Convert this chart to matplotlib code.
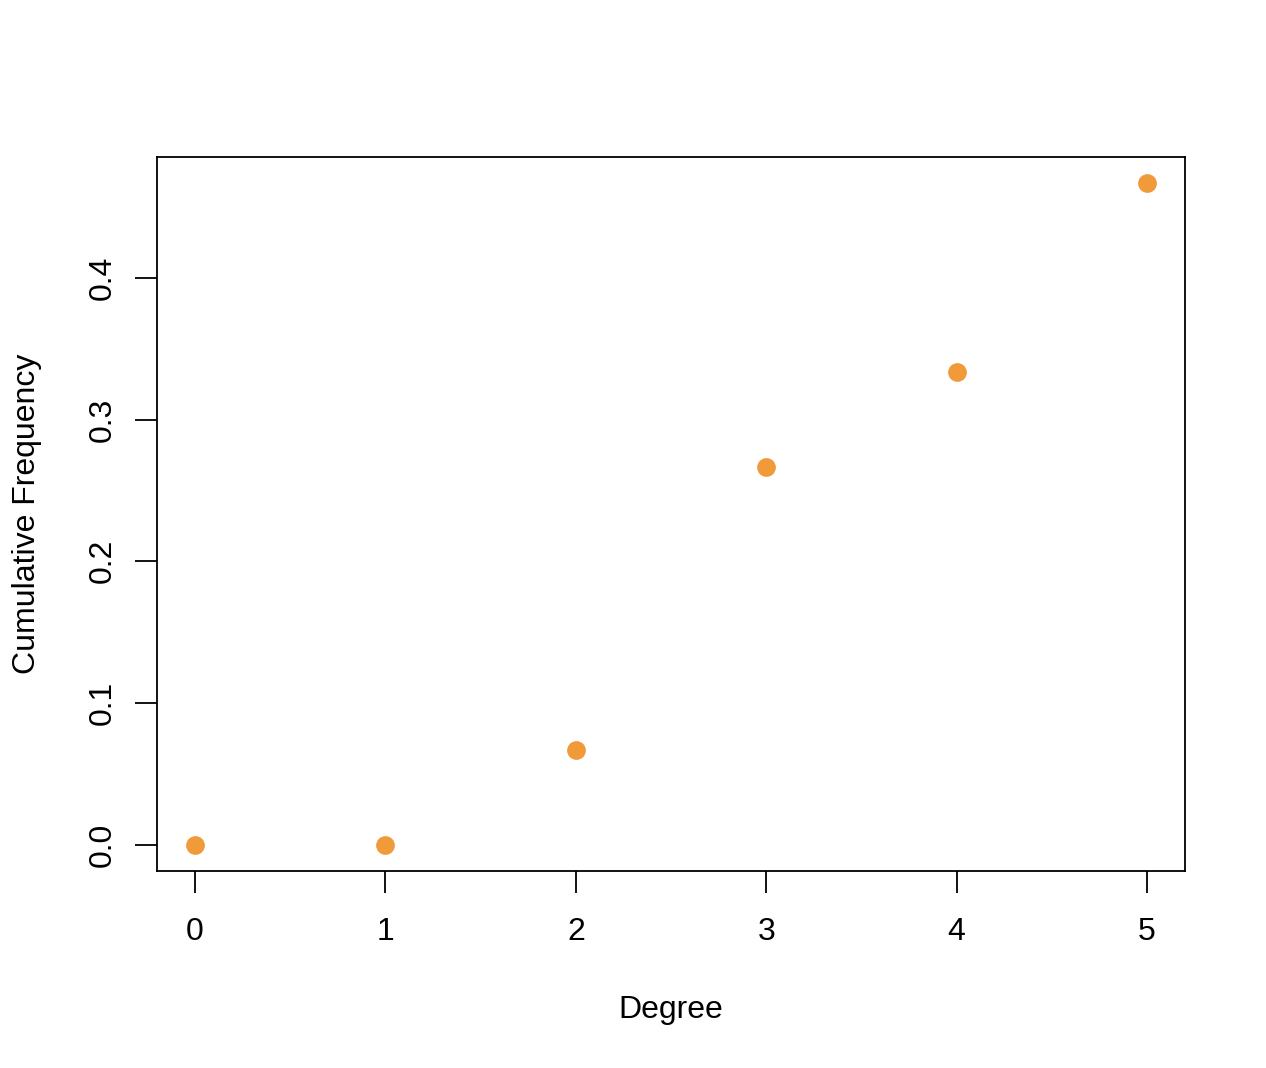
import matplotlib
matplotlib.use("Agg")
import matplotlib.pyplot as plt

# Data: cumulative degree frequency
degree = [0, 1, 2, 3, 4, 5]
cum_freq = [0.0, 0.0, 1 / 15, 4 / 15, 5 / 15, 7 / 15]
x_ticks = [0, 1, 2, 3, 4, 5]
y_ticks = [0.0, 0.1, 0.2, 0.3, 0.4]

plt.rcParams['font.family'] = ['Liberation Sans', 'DejaVu Sans']

fig = plt.figure(figsize=(12.66, 10.68), dpi=100)
ax = fig.add_axes([157 / 1266, 1 - 871 / 1068, (1185 - 157) / 1266, (871 - 157) / 1068])

ax.plot(degree, cum_freq, 'o', color='#F19A3A', markersize=13.5, markeredgewidth=0)

# R-style 4% padding
xr = max(degree) - min(degree)
yr = max(cum_freq) - min(cum_freq)
ax.set_xlim(min(degree) - 0.04 * xr, max(degree) + 0.04 * xr)
ax.set_ylim(min(cum_freq) - 0.04 * yr, max(cum_freq) + 0.04 * yr)

ax.set_xticks(x_ticks)
ax.set_xticklabels([str(v) for v in x_ticks])
ax.set_yticks(y_ticks)
ax.set_yticklabels([f"{v:.1f}" for v in y_ticks], rotation=90, va='center')

ax.tick_params(axis='both', direction='out', length=16, width=1.3,
               labelsize=23, color='black')
ax.tick_params(axis='x', pad=17)
ax.tick_params(axis='y', pad=12)
for s in ax.spines.values():
    s.set_linewidth(1.3)

ax.set_xlabel("Degree", fontsize=23, labelpad=35)
ax.set_ylabel("Cumulative Frequency", fontsize=23, labelpad=33)

fig.savefig("out.png", dpi=100)
